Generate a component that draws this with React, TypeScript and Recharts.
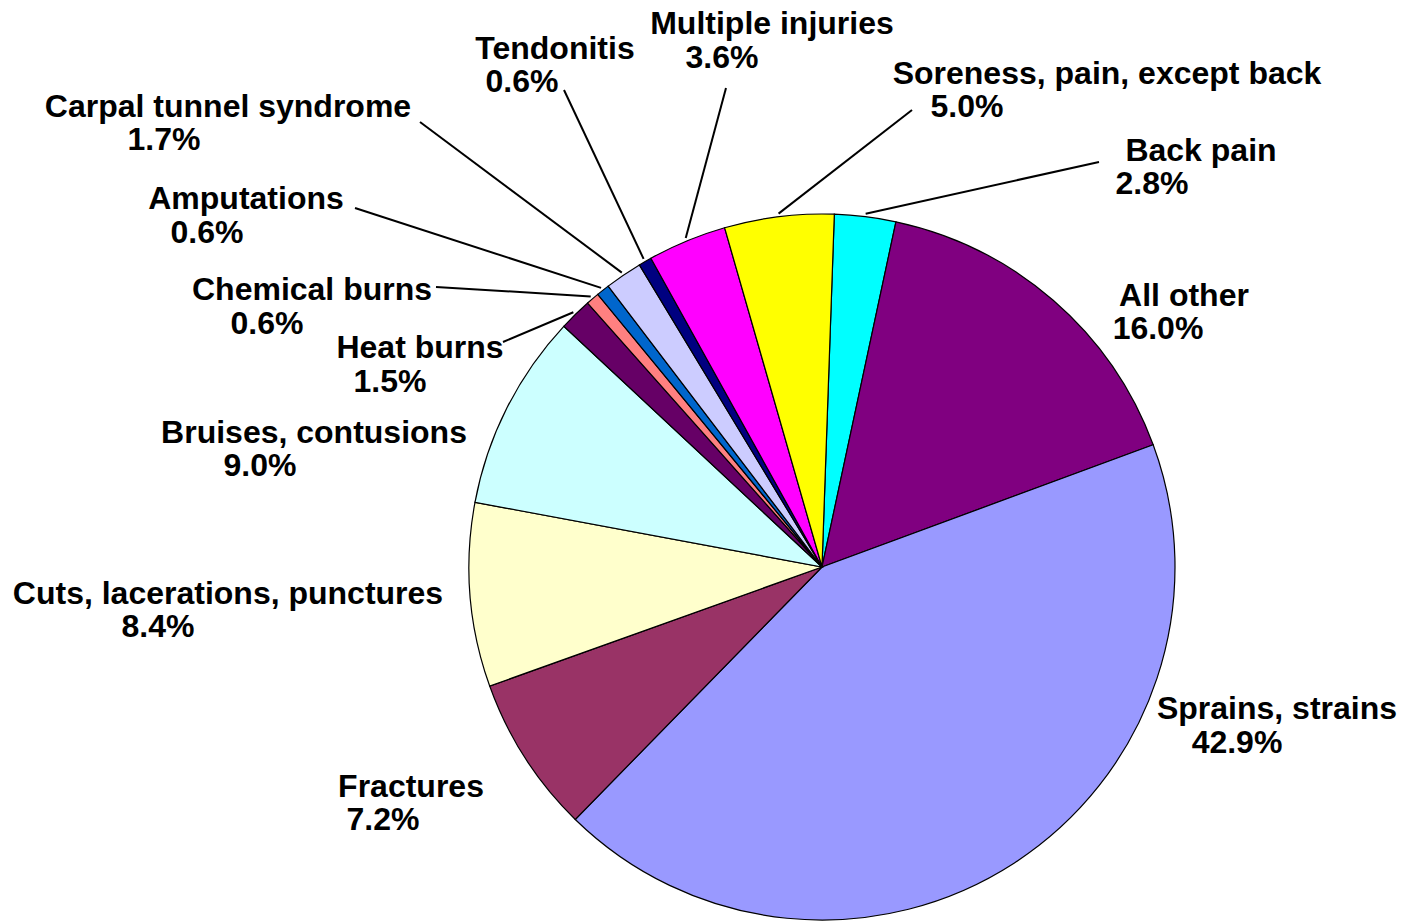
import { PieChart, Pie, Cell } from 'recharts';

// clockwise from the top, as in the source sheet
const categories = [
  'Back pain',
  'All other',
  'Sprains, strains',
  'Fractures',
  'Cuts, lacerations, punctures',
  'Bruises, contusions',
  'Heat burns',
  'Chemical burns',
  'Amputations',
  'Carpal tunnel syndrome',
  'Tendonitis',
  'Multiple injuries',
  'Soreness, pain, except back',
];
const shares = [2.8, 16.0, 42.9, 7.2, 8.4, 9.0, 1.5, 0.6, 0.6, 1.7, 0.6, 3.6, 5.0];
const sliceColors = [
  '#00FFFF', '#800080', '#9999FF', '#993366', '#FFFFCC', '#CCFFFF', '#660066',
  '#FF8080', '#0066CC', '#CCCCFF', '#000080', '#FF00FF', '#FFFF00',
];

// label placement: centre x of each line, baselines, leader end (if any)
type LabelPos = { x1: number; x2: number; y1: number; y2: number; end?: [number, number] };
const labelLayout: LabelPos[] = [
  { x1: 1201, x2: 1152, y1: 161, y2: 194, end: [1099, 162] },
  { x1: 1184, x2: 1158, y1: 306, y2: 339 },
  { x1: 1277, x2: 1237, y1: 719, y2: 753 },
  { x1: 411, x2: 383, y1: 797, y2: 830 },
  { x1: 228, x2: 158, y1: 604, y2: 637 },
  { x1: 314, x2: 260, y1: 443, y2: 476 },
  { x1: 420, x2: 390, y1: 358, y2: 392, end: [503, 342] },
  { x1: 312, x2: 267, y1: 300, y2: 334, end: [436, 287] },
  { x1: 246, x2: 207, y1: 209, y2: 243, end: [355, 208] },
  { x1: 228, x2: 164, y1: 117, y2: 150, end: [420, 122] },
  { x1: 555, x2: 522, y1: 59, y2: 92, end: [564, 90] },
  { x1: 772, x2: 722, y1: 34, y2: 68, end: [726, 88] },
  { x1: 1107, x2: 967, y1: 84, y2: 117, end: [912, 110] },
];

const data = categories.map((name, i) => ({ name, value: shares[i] }));

const RAD = Math.PI / 180;

function renderLabel(props: any) {
  const { cx, cy, midAngle, outerRadius, index } = props;
  const pos = labelLayout[index];
  const r = outerRadius + 3;
  const sx = cx + r * Math.cos(-midAngle * RAD);
  const sy = cy + r * Math.sin(-midAngle * RAD);
  const textStyle = {
    fontFamily: '"Liberation Sans", Arial, sans-serif',
    fontWeight: 700,
    fontSize: 32,
    fill: '#000',
  };
  return (
    <g key={`lbl-${index}`}>
      {pos.end && (
        <line x1={sx} y1={sy} x2={pos.end[0]} y2={pos.end[1]} stroke="#000" strokeWidth={2} />
      )}
      <text x={pos.x1} y={pos.y1} textAnchor="middle" style={textStyle}>
        {categories[index]}
      </text>
      <text x={pos.x2} y={pos.y2} textAnchor="middle" style={textStyle}>
        {shares[index].toFixed(1)}%
      </text>
    </g>
  );
}

export default function App() {
  return (
    <div style={{ position: 'absolute', left: 0, top: 0, width: 1401, height: 921, background: '#fff' }}>
      <PieChart width={1401} height={921} margin={{ top: 0, right: 0, bottom: 0, left: 0 }}>
        <Pie
          data={data}
          dataKey="value"
          nameKey="name"
          cx={822}
          cy={567}
          outerRadius={353}
          startAngle={88}
          endAngle={-272}
          stroke="#000"
          strokeWidth={1.2}
          label={renderLabel}
          labelLine={false}
          isAnimationActive={false}
        >
          {data.map((d, i) => (
            <Cell key={d.name} fill={sliceColors[i]} />
          ))}
        </Pie>
      </PieChart>
    </div>
  );
}
